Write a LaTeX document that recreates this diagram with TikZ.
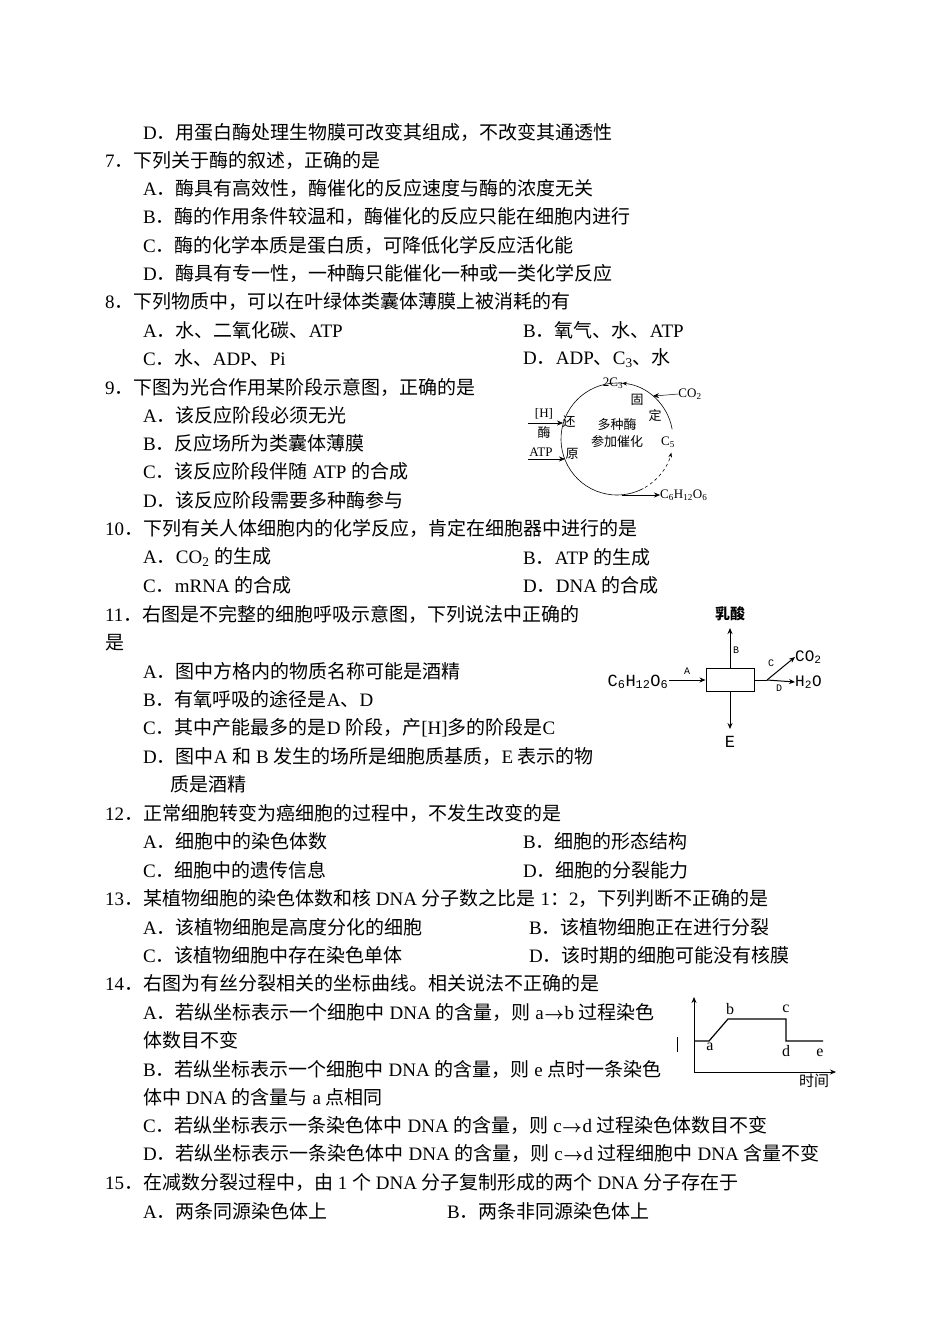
\documentclass[tikz,border=0pt]{standalone}
\usepackage{fontspec}
\setmainfont{Liberation Serif}
\newfontfamily\cjk{Noto Sans CJK SC}
\newfontfamily\tw{Liberation Mono}
\newcommand\e[1]{{\rmfamily #1}}
\newcommand\sub[1]{\textsubscript{#1}}
\newcommand\ar{\kern1pt$\boldsymbol{\to}$\kern1pt}
\usepackage{amsmath,bm}
\renewcommand\ar{\kern0.5pt$\bm{\to}$\kern0.5pt}
\newcounter{lnc}
\newcommand\TL[3]{\stepcounter{lnc}\node[txt] (l\number\value{lnc}) at (#1,-#2) {#3};}
\usetikzlibrary{arrows.meta}
\begin{document}
\begin{tikzpicture}[x=1pt,y=1pt,
 txt/.style={anchor=west,inner sep=0pt,font=\fontsize{19}{21}\selectfont\cjk},
 lab/.style={inner sep=0pt,font=\fontsize{13}{14}\selectfont\cjk},
 ar/.style={-{Stealth[length=6pt,width=5pt]},line width=0.8pt}]
\fill[white] (0,0) rectangle (950,-1342);
\useasboundingbox (0,0) rectangle (950,-1342);
\TL{143}{132}{\e{D}．用蛋白酶处理生物膜可改变其组成，不改变其通透性}
\TL{105}{160}{\e{7}．下列关于酶的叙述，正确的是}
\TL{143}{188}{\e{A}．酶具有高效性，酶催化的反应速度与酶的浓度无关}
\TL{143}{216}{\e{B}．酶的作用条件较温和，酶催化的反应只能在细胞内进行}
\TL{143}{245}{\e{C}．酶的化学本质是蛋白质，可降低化学反应活化能}
\TL{143}{273}{\e{D}．酶具有专一性，一种酶只能催化一种或一类化学反应}
\TL{105}{301}{\e{8}．下列物质中，可以在叶绿体类囊体薄膜上被消耗的有}
\TL{143}{330}{\e{A}．水、二氧化碳、\e{ATP}}
\TL{523}{330}{\e{B}．氧气、水、\e{ATP}}
\TL{143}{358}{\e{C}．水、\e{ADP}、\e{Pi}}
\TL{523}{358}{\e{D}．\e{ADP}、\e{C\sub{3}}、水}
\TL{105}{387}{\e{9}．下图为光合作用某阶段示意图，正确的是}
\TL{143}{415}{\e{A}．该反应阶段必须无光}
\TL{143}{443}{\e{B}．反应场所为类囊体薄膜}
\TL{143}{471}{\e{C}．该反应阶段伴随\e{ ATP }的合成}
\TL{143}{500}{\e{D}．该反应阶段需要多种酶参与}
\TL{105}{528}{\e{10}．下列有关人体细胞内的化学反应，肯定在细胞器中进行的是}
\TL{143}{557}{\e{A}．\e{CO\sub{2} }的生成}
\TL{523}{557}{\e{B}．\e{ATP }的生成}
\TL{143}{585}{\e{C}．\e{mRNA }的合成}
\TL{523}{585}{\e{D}．\e{DNA }的合成}
\TL{105}{614}{\e{11}．右图是不完整的细胞呼吸示意图，下列说法中正确的}
\TL{105}{643}{是}
\TL{143}{671}{\e{A}．图中方格内的物质名称可能是酒精}
\TL{143}{699}{\e{B}．有氧呼吸的途径是\e{A}、\e{D}}
\TL{143}{728}{\e{C}．其中产能最多的是\e{D }阶段，产\e{[H]}多的阶段是\e{C}}
\TL{143}{756}{\e{D}．图中\e{A }和\e{ B }发生的场所是细胞质基质，\e{E }表示的物}
\TL{170}{784}{质是酒精}
\TL{105}{813}{\e{12}．正常细胞转变为癌细胞的过程中，不发生改变的是}
\TL{143}{841}{\e{A}．细胞中的染色体数}
\TL{523}{841}{\e{B}．细胞的形态结构}
\TL{143}{870}{\e{C}．细胞中的遗传信息}
\TL{523}{870}{\e{D}．细胞的分裂能力}
\TL{105}{898}{\e{13}．某植物细胞的染色体数和核\e{ DNA }分子数之比是\e{ 1}：\e{2}，下列判断不正确的是}
\TL{143}{927}{\e{A}．该植物细胞是高度分化的细胞}
\TL{529}{927}{\e{B}．该植物细胞正在进行分裂}
\TL{143}{955}{\e{C}．该植物细胞中存在染色单体}
\TL{529}{955}{\e{D}．该时期的细胞可能没有核膜}
\TL{105}{983}{\e{14}．右图为有丝分裂相关的坐标曲线。相关说法不正确的是}
\TL{143}{1012}{\e{A}．若纵坐标表示一个细胞中\e{ DNA }的含量，则\e{ a\ar b }过程染色}
\TL{143}{1040}{体数目不变}
\TL{143}{1069}{\e{B}．若纵坐标表示一个细胞中\e{ DNA }的含量，则\e{ e }点时一条染色}
\TL{143}{1097}{体中\e{ DNA }的含量与\e{ a }点相同}
\TL{143}{1125}{\e{C}．若纵坐标表示一条染色体中\e{ DNA }的含量，则\e{ c\ar d }过程染色体数目不变}
\TL{143}{1153}{\e{D}．若纵坐标表示一条染色体中\e{ DNA }的含量，则\e{ c\ar d }过程细胞中\e{ DNA }含量不变}
\TL{105}{1182}{\e{15}．在减数分裂过程中，由\e{ 1 }个\e{ DNA }分子复制形成的两个\e{ DNA }分子存在于}
\TL{143}{1211}{\e{A}．两条同源染色体上}
\TL{447}{1211}{\e{B}．两条非同源染色体上}
% figure 9
\coordinate (O) at (617,-439);
\draw[line width=0.6pt,-{Stealth[length=5pt]}] ([shift={(10:56)}]O) arc (10:85:56);
\draw[line width=0.6pt] ([shift={(85:56)}]O) arc (85:298:56);
\draw[line width=0.6pt,dashed,-{Stealth[length=5pt]}] ([shift={(-60:56)}]O) arc (-60:-14:56);
\node[lab] (c3) at (613,-383) {\e{2C\sub{3}}};
\node[lab] (co2a) at (690,-394) {\e{CO\sub{2}}};
\coordinate (cin) at ([shift={(50:56)}]O);
\draw[ar,line width=0.5pt] (co2a.west) -- (cin);
\node[lab] (gu) at (637,-400) {固};
\node[lab] (di) at (655,-416) {定};
\node[lab] (c5) at (668,-442) {\e{C\sub{5}}};
\node[lab] (hu) at (569,-422) {还};
\node[lab] (yu) at (572,-454) {原};
\node[lab] (hh) at (544,-414) {\e{[H]}};
\node[lab] (mei) at (544,-433) {酶};
\node[lab] (atp) at (541,-452) {\e{ATP}};
\coordinate (hin) at (563,-423);
\coordinate (ain) at (565,-459);
\draw[ar,line width=0.5pt] (528,-423) -- (hin);
\draw[ar,line width=0.5pt] (528,-459) -- (ain);
\node[lab] (m1) at (617,-425) {多种酶};
\node[lab] (m2) at (617,-442) {参加催化};
\node[lab,anchor=west] (glu) at (660,-495) {\e{C\sub{6}H\sub{12}O\sub{6}}};
\draw[ar,line width=0.5pt] (622,-495) -- (glu.west);
% figure 11
\node[draw,line width=1pt,minimum width=48pt,minimum height=23pt,inner sep=0pt] (box) at (730,-680) {};
\node[lab,font=\fontsize{15}{16}\selectfont\cjk\bfseries] (ru) at (730,-614) {乳酸};
\node[lab,font=\fontsize{17}{18}\selectfont\tw] (e) at (730,-742) {E};
\node[lab,font=\fontsize{17}{18}\selectfont\tw] (g) at (638,-682) {C\sub{6}H\sub{12}O\sub{6}};
\node[lab,font=\fontsize{16}{18}\selectfont\tw,anchor=west] (co2) at (795,-657) {CO\sub{2}};
\node[lab,font=\fontsize{16}{18}\selectfont\tw,anchor=west] (h2o) at (795,-682) {H\sub{2}O};
\draw[ar,line width=1pt] (box.north) -- (730,-628);
\draw[ar,line width=1pt] (box.south) -- (730,-729);
\draw[ar,line width=1pt] (669,-680) -- (box.west);
\coordinate (br) at (767,-680);
\draw[line width=1pt] (box.east) -- (br);
\draw[ar,line width=1pt] (br) -- (co2.west);
\draw[ar,line width=1pt] (br) -- (h2o.west);
\node[lab,font=\fontsize{10}{11}\selectfont\tw] (la) at (687,-671) {A};
\node[lab,font=\fontsize{10}{11}\selectfont\tw] (lb) at (736,-650) {B};
\node[lab,font=\fontsize{10}{11}\selectfont\tw] (lc) at (771,-663) {C};
\node[lab,font=\fontsize{10}{11}\selectfont\tw] (ld) at (779,-688) {D};
% figure 14
\draw[ar,line width=0.8pt] (694,-1072) -- (694,-997);
\draw[ar,line width=0.8pt] (694,-1072) -- (836,-1072);
\draw[line width=1.2pt] (694,-1041) -- (709,-1041) -- (728,-1019) -- (786,-1019) -- (786,-1041) -- (823,-1041);
\draw[line width=0.5pt] (677,-1037) -- (677,-1052);
\node[lab,font=\fontsize{16}{18}\selectfont] (pa) at (710,-1047) {a};
\node[lab,font=\fontsize{16}{18}\selectfont] (pb) at (730,-1009) {b};
\node[lab,font=\fontsize{16}{18}\selectfont] (pc) at (786,-1009) {c};
\node[lab,font=\fontsize{16}{18}\selectfont] (pd) at (786,-1051) {d};
\node[lab,font=\fontsize{16}{18}\selectfont] (pe) at (820,-1053) {e};
\node[lab,font=\fontsize{15}{16}\selectfont\cjk] (sj) at (814,-1081) {时间};
\end{tikzpicture}
\end{document}
